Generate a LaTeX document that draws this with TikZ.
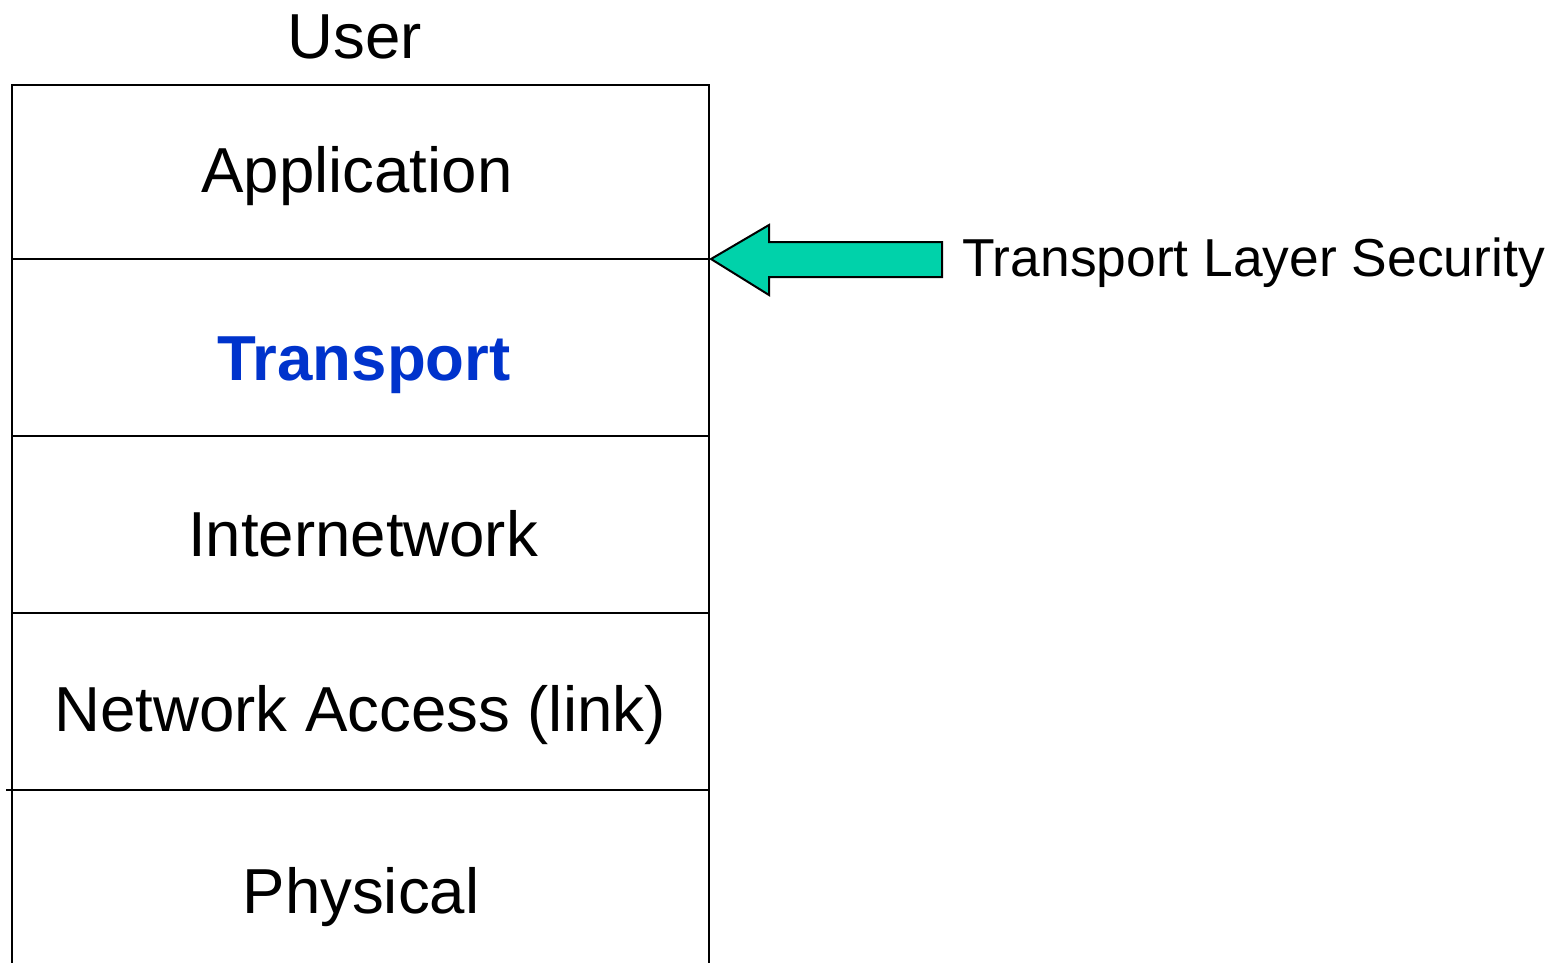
\documentclass[tikz,border=0pt]{standalone}
\usepackage{fontspec}
\setmainfont{Liberation Sans}
\definecolor{tlsgreen}{HTML}{00D2AA}
\definecolor{tpblue}{HTML}{0033CC}
\begin{document}
\begin{tikzpicture}[x=1pt,y=-1pt,
  layerlabel/.style={anchor=base,inner sep=0pt,font=\fontsize{63.6}{64}\selectfont},
  sidelabel/.style={anchor=base west,inner sep=0pt,font=\fontsize{53.4}{54}\selectfont},
  rule/.style={line width=2pt,black}]
\useasboundingbox (0,0) rectangle (1557,962);
% stack outline, open at the bottom
\draw[rule] (12,970) -- (12,85) -- (709,85) -- (709,970);
\coordinate (sep1L) at (12,259);  \coordinate (sep1R) at (709,259);
\coordinate (sep2L) at (12,436);  \coordinate (sep2R) at (709,436);
\coordinate (sep3L) at (12,613);  \coordinate (sep3R) at (709,613);
\coordinate (sep4L) at (6,790);   \coordinate (sep4R) at (709,790);
\draw[rule] (sep1L) -- (sep1R);
\draw[rule] (sep2L) -- (sep2R);
\draw[rule] (sep3L) -- (sep3R);
\draw[rule] (sep4L) -- (sep4R);
% layer names
\node[layerlabel] (user) at (355,58) {User};
\node[layerlabel] (app) at (357,192) {Application};
\node[layerlabel,text=tpblue,font=\fontsize{63.6}{64}\selectfont\bfseries] (tp) at (364,380) {Transport};
\node[layerlabel] (inet) at (363,556) {Internetwork};
\node[layerlabel] (link) at (360,731) {Network Access (link)};
\node[layerlabel] (phys) at (361,913) {Physical};
% block arrow pointing at the boundary above the transport layer
\node[sidelabel] (tls) at (962,276) {Transport Layer Security};
\draw[line width=2pt,fill=tlsgreen,line join=miter]
  (sep1R) ++(2,0) -- (769,225) -- (769,242) -- (942,242) -- (942,277)
  -- (769,277) -- (769,295) -- cycle;
\end{tikzpicture}
\end{document}
